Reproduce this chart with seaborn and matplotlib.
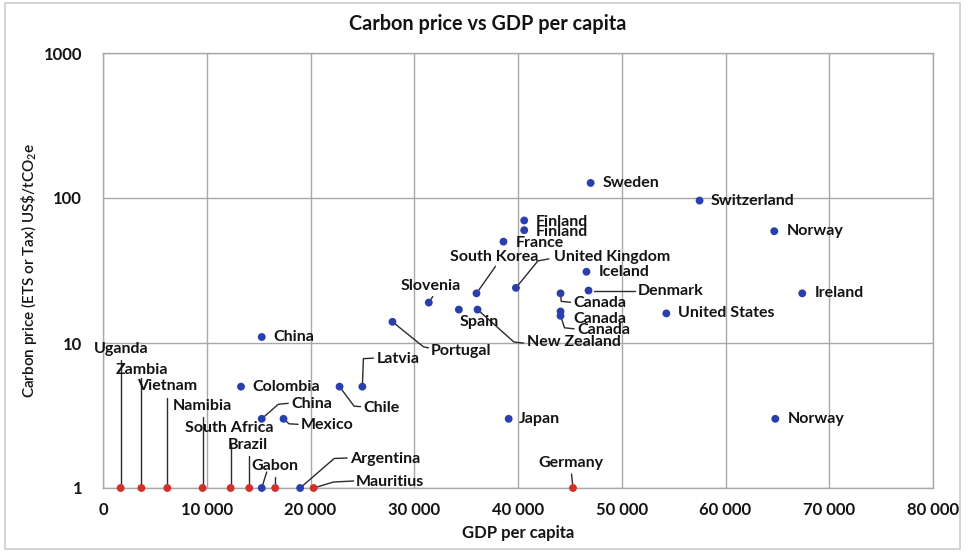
import matplotlib
matplotlib.use("Agg")
import matplotlib.pyplot as plt
import matplotlib.patches as mpatches
from matplotlib.transforms import IdentityTransform
import pandas as pd
import seaborn as sns

# ---- data -------------------------------------------------------------
countries = [
    "Sweden", "Switzerland", "Norway", "Ireland", "United States",
    "Finland", "Finland", "France", "Iceland", "Denmark",
    "United Kingdom", "South Korea", "Slovenia", "Spain", "New Zealand",
    "Portugal", "Latvia", "Chile", "Colombia", "China",
    "China", "Mexico", "Japan", "Norway", "Canada",
    "Canada", "Canada",
    "Uganda", "Zambia", "Vietnam", "Namibia", "South Africa",
    "Brazil", "", "Gabon", "Argentina", "Mauritius", "Germany",
]
gdp_per_capita = [
    47000, 57500, 64700, 67400, 54300,
    40600, 40600, 38600, 46600, 46800,
    39800, 36000, 31400, 34300, 36100,
    27900, 25000, 22800, 13300, 15300,
    15300, 17400, 39100, 64800, 44100,
    44100, 44100,
    1700, 3700, 6200, 9600, 12300,
    14100, 15300, 16600, 19000, 20300, 45300,
]
carbon_price = [
    127, 96, 59, 22, 16,
    70, 60, 50, 31, 23,
    24, 22, 19, 17, 17,
    14, 5, 5, 5, 11,
    3, 3, 3, 3, 22,
    16.5, 15.4,
    1, 1, 1, 1, 1,
    1, 1, 1, 1, 1, 1,
]
price_status = (["Priced"] * 27
                + ["None", "None", "None", "None", "None",
                   "None", "Priced", "None", "Priced", "None", "None"])

x_ticks = [0, 10000, 20000, 30000, 40000, 50000, 60000, 70000, 80000]
x_tick_labels = ["0", "10 000", "20 000", "30 000", "40 000",
                 "50 000", "60 000", "70 000", "80 000"]
y_ticks = [1, 10, 100, 1000]
y_tick_labels = ["1", "10", "100", "1000"]

df = pd.DataFrame({"country": countries, "gdp": gdp_per_capita,
                   "price": carbon_price, "status": price_status})

# ---- label placement (pixel offsets from each marker, y pointing down) --
# (text dx, text dy, horizontal alignment, leader-line vertices)
placement = [
    (12, 0, "left", None), (11, 0, "left", None), (12, 0, "left", None),
    (12, 0, "left", None), (12, 0, "left", None),
    (12, 1.5, "left", None), (12, 1.5, "left", None), (12, 1, "left", None),
    (12, 0, "left", None),
    (49, 0, "left", [(5, 0), (46, 0)]),
    (38, -31, "left", [(0, 0), (22, -27), (33, -29)]),
    (17.5, -36, "center", [(0, 0), (19, -27)]),
    (2, -17, "center", [(0, 0), (4, -6)]),
    (20, 12.5, "center", None),
    (49, 32.5, "left", [(0, 0), (36.5, 32.5), (46, 33.5)]),
    (38.5, 29, "left", [(0, 0), (31, 25), (36, 26)]),
    (14.5, -28, "left", [(0, 0), (1, -28), (11, -28.5)]),
    (23.5, 21, "left", [(0, 0), (14.5, 19.5), (21, 20)]),
    (11, 0, "left", None), (11.5, 0, "left", None),
    (29.5, -14.5, "left", [(0, 0), (16.5, -14.5), (26.5, -15.5)]),
    (17.5, 6.5, "left", [(0, 0), (5.5, 5), (14.5, 5.5)]),
    (10.5, 0, "left", None), (12, 0, "left", None),
    (12.5, 10, "left", [(0, 0), (0.7, 8), (10, 9)]),
    (12.5, 7.5, "left", None),
    (16.5, 14, "left", [(0, 0), (4, 12), (13.5, 13)]),
    (1, -138.5, "center", [(0, 0), (0, -128)]),
    (0, -118.5, "center", [(0, 0), (0, -110)]),
    (0, -101.5, "center", [(0, 0), (0, -90)]),
    (0, -81.5, "center", [(0, 0), (0, -71)]),
    (-1.5, -59.5, "center", [(0, 0), (0, -45)]),
    (-1.5, -43, "center", [(0, 0), (0, -32)]),
    (0, 0, "center", [(0, 0), (5, -16)]),
    (-0.5, -21.5, "center", [(0, 0), (0, -11)]),
    (49.5, -29.5, "left", [(0, 0), (34, -29.5), (47, -30)]),
    (42.5, -6.5, "left", [(0, 0), (20, -6), (40, -7)]),
    (-2.5, -24.5, "center", [(0, 0), (-1.5, -14)]),
]

# ---- style ------------------------------------------------------------
sns.set_theme(style="white")
plt.rcParams["font.family"] = ["Lato", "DejaVu Sans"]
plt.rcParams["mathtext.default"] = "regular"

GRID = "#a8a8a8"
DOT_COLOURS = {"Priced": "#2a3fae", "None": "#d3302a"}
INK = "#141414"
LEADER = "#2b2b2b"
LABEL_SIZE = 11.5

W, H = 967, 555
fig = plt.figure(figsize=(W / 100, H / 100), dpi=100)
fig.patch.set_facecolor("white")
ax = fig.add_axes([103 / W, 1 - 488 / H, (933 - 103) / W, (488 - 53) / H])

ax.set_xscale("linear")
ax.set_yscale("log")
ax.set_xlim(0, 80000)
ax.set_ylim(1, 1000)

sns.scatterplot(data=df, x="gdp", y="price", hue="status",
                palette=DOT_COLOURS, s=32, linewidth=0, legend=False,
                ax=ax, zorder=4, clip_on=False)

ax.set_xticks(x_ticks)
ax.set_xticklabels(x_tick_labels)
ax.set_yticks(y_ticks)
ax.set_yticklabels(y_tick_labels)
ax.yaxis.set_minor_locator(matplotlib.ticker.NullLocator())
ax.tick_params(axis="both", length=0, labelsize=12, labelcolor=INK)
ax.tick_params(axis="x", pad=10)
ax.tick_params(axis="y", pad=15)
for lab in ax.get_xticklabels() + ax.get_yticklabels():
    lab.set_fontweight("bold")

ax.grid(True, which="major", color=GRID, linewidth=1.0)
ax.set_axisbelow(True)
for sp in ax.spines.values():
    sp.set_color(GRID)
    sp.set_linewidth(1.0)

ax.set_xlabel("GDP per capita", fontsize=12, fontweight="bold",
              color=INK, labelpad=5)
ax.set_ylabel(r"Carbon price (ETS or Tax) US\$/tCO$_2$e", fontsize=11,
              fontweight="semibold", color=INK, labelpad=3)

fig.text(488 / W, 1 - 24 / H, "Carbon price vs GDP per capita",
         ha="center", va="center", fontsize=14.3, fontweight="bold",
         color=INK)

# ---- labels and leader lines -------------------------------------------
for (name, gx, py), (dx, dy, ha, path) in zip(
        zip(countries, gdp_per_capita, carbon_price), placement):
    px_x, px_y = ax.transData.transform((gx, py))
    if path:
        xs = [px_x + vx for vx, _ in path]
        ys = [px_y - vy for _, vy in path]
        ax.plot(xs, ys, color=LEADER, linewidth=1.0,
                transform=IdentityTransform(), clip_on=False, zorder=3)
    if name:
        ax.annotate(name, xy=(gx, py), xytext=(dx, -dy),
                    textcoords="offset pixels", ha=ha, va="center",
                    fontsize=LABEL_SIZE, fontweight="bold", color=INK,
                    zorder=5)

# thin frame round the whole figure
fig.patches.append(mpatches.Rectangle(
    (5 / W, 1 - 549 / H), 955 / W, 546 / H, transform=fig.transFigure,
    fill=False, edgecolor="#cccccc", linewidth=1.2))

fig.savefig("out.png", dpi=100)
